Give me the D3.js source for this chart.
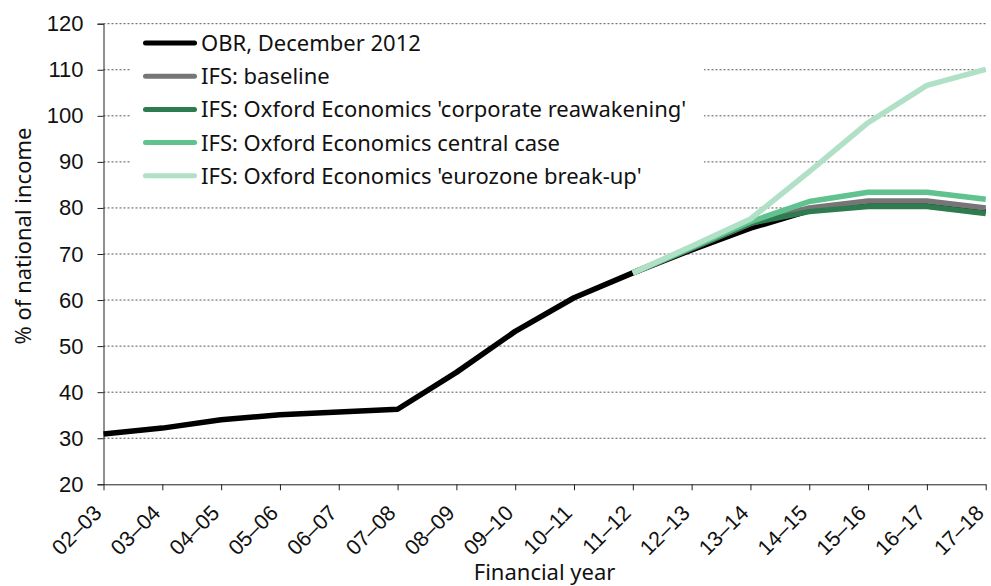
<!DOCTYPE html>
<html>
<head>
<meta charset="utf-8">
<script src="https://cdn.jsdelivr.net/npm/d3@7"></script>
<style>
  body { margin: 0; background: #fff; }
  svg { display: block; font-family: "Noto Sans", sans-serif; }
</style>
</head>
<body>
<div id="chart"></div>
<script>
// Financial years on the x axis
const years = ["02–03", "03–04", "04–05", "05–06", "06–07", "07–08", "08–09", "09–10",
  "10–11", "11–12", "12–13", "13–14", "14–15", "15–16", "16–17", "17–18"];

// Series values (% of national income); null = no value that year
const obr = [30.9, 32.2, 34.0, 35.1, 35.7, 36.3, 44.3, 53.2, 60.5, 65.9, 70.9, 75.6, 79.4, 80.7, 80.7, 79.2];
const ifsBaseline = [null, null, null, null, null, null, null, null, null, 65.9, 71.2, 76.6, 80.0, 81.5, 81.5, 80.0];
const ifsCorporate = [null, null, null, null, null, null, null, null, null, 65.9, 71.3, 76.7, 79.2, 80.3, 80.3, 78.8];
const ifsCentral = [null, null, null, null, null, null, null, null, null, 65.9, 71.4, 77.0, 81.4, 83.4, 83.4, 81.9];
const ifsEurozone = [null, null, null, null, null, null, null, null, null, 65.9, 71.7, 77.6, 87.9, 98.5, 106.6, 110.1];

const seriesNames = [
  "OBR, December 2012",
  "IFS: baseline",
  "IFS: Oxford Economics 'corporate reawakening'",
  "IFS: Oxford Economics central case",
  "IFS: Oxford Economics 'eurozone break-up'"
];
const seriesValues = [obr, ifsBaseline, ifsCorporate, ifsCentral, ifsEurozone];
const seriesColors = ["#000000", "#767676", "#2e7b50", "#60c28e", "#b0e0c5"];

const yTicks = [20, 30, 40, 50, 60, 70, 80, 90, 100, 110, 120];

const width = 991;
const height = 586;
const margin = { top: 23.7, right: 5.3, bottom: 101.7, left: 103.5 };

const svg = d3.select("#chart")
  .append("svg")
  .attr("width", width)
  .attr("height", height);

const x = d3.scalePoint()
  .domain(years)
  .range([margin.left, width - margin.right]);

const y = d3.scaleLinear()
  .domain([20, 120])
  .range([height - margin.bottom, margin.top]);

// dotted gridlines
svg.append("g")
  .selectAll("line")
  .data(yTicks.filter(d => d > 20))
  .join("line")
  .attr("x1", margin.left)
  .attr("x2", width - margin.right)
  .attr("y1", d => y(d))
  .attr("y2", d => y(d))
  .attr("stroke", "#555")
  .attr("stroke-width", 1)
  .attr("stroke-dasharray", "2,2");

// legend background hides gridlines behind it
svg.append("rect")
  .attr("x", 131)
  .attr("y", 30)
  .attr("width", 573)
  .attr("height", 165)
  .attr("fill", "#fff");

// y axis
const yAxis = svg.append("g")
  .attr("transform", `translate(${margin.left},0)`)
  .call(d3.axisLeft(y).tickValues(yTicks).tickSize(6).tickPadding(14));
yAxis.selectAll("text")
  .attr("font-size", 22)
  .attr("fill", "#111");
yAxis.selectAll("line, path").attr("stroke", "#222");

// x axis
const xAxis = svg.append("g")
  .attr("transform", `translate(0,${height - margin.bottom})`)
  .call(d3.axisBottom(x).tickSize(6).tickSizeOuter(0));
xAxis.selectAll("line, path").attr("stroke", "#222");
xAxis.selectAll("text")
  .attr("font-size", 21.5)
  .attr("fill", "#111")
  .attr("text-anchor", "end")
  .attr("dy", null)
  .attr("y", 0)
  .attr("transform", "translate(-1,30) rotate(-45)");

// axis titles
svg.append("text")
  .attr("x", (margin.left + width - margin.right) / 2)
  .attr("y", 580)
  .attr("text-anchor", "middle")
  .attr("font-size", 22)
  .attr("fill", "#111")
  .text("Financial year");

svg.append("text")
  .attr("transform", "translate(31,236) rotate(-90)")
  .attr("text-anchor", "middle")
  .attr("font-size", 22)
  .attr("fill", "#111")
  .text("% of national income");

// lines
const line = d3.line()
  .defined(d => d != null)
  .x((d, i) => x(years[i]))
  .y(d => y(d));

svg.append("g")
  .selectAll("path")
  .data(seriesValues)
  .join("path")
  .attr("d", line)
  .attr("fill", "none")
  .attr("stroke", (d, i) => seriesColors[i])
  .attr("stroke-width", 5.5)
  .attr("stroke-linejoin", "round");

// legend
const legend = svg.append("g")
  .selectAll("g")
  .data(seriesNames)
  .join("g")
  .attr("transform", (d, i) => `translate(143,${43 + i * 33.2})`);

legend.append("line")
  .attr("x1", 2.5)
  .attr("x2", 51.5)
  .attr("stroke", (d, i) => seriesColors[i])
  .attr("stroke-width", 5)
  .attr("stroke-linecap", "round");

legend.append("text")
  .attr("x", 58)
  .attr("y", 8)
  .attr("font-size", 22)
  .attr("fill", "#111")
  .text(d => d);
</script>
</body>
</html>
